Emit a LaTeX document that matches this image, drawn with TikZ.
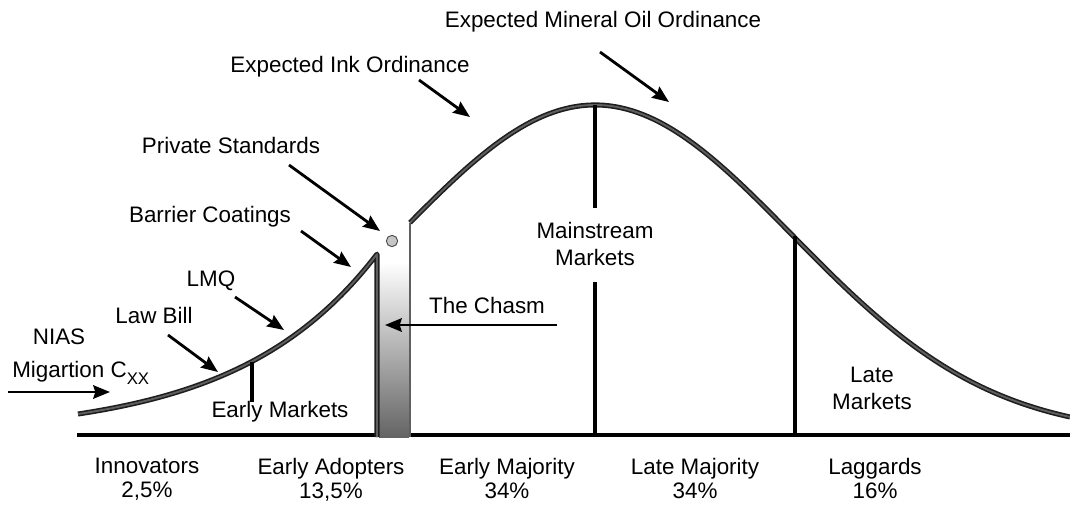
\documentclass[tikz,border=0pt]{standalone}
\usepackage{fontspec}
\setmainfont{Liberation Sans}
\usetikzlibrary{arrows.meta}
\definecolor{chasmGray}{RGB}{100,100,100}
\definecolor{bellDark}{RGB}{30,30,30}
\definecolor{bellMid}{RGB}{95,95,95}
\newcommand\lblfont{\fontsize{16.8}{20.25}\selectfont}
\newcommand\axisfont{\fontsize{16.8}{18}\selectfont}

\begin{document}
\begin{tikzpicture}[
  x=0.75pt, y=-0.75pt,
  lbl/.style={anchor=base, inner sep=0pt, font=\lblfont},
  grp/.style={anchor=north, align=center, inner sep=0pt, font=\lblfont},
  share/.style={anchor=north, align=center, inner sep=0pt, font=\axisfont},
  bell/.style={draw=bellDark, double=bellMid, double distance=1.4pt,
    line width=1.2pt, line join=round},
  tick/.style={line width=2.4pt},
  pointer/.style={-{Stealth[length=12.5pt,width=10pt,inset=1.5pt]},
    line width=2.1pt},
  dot/.style={circle, draw=black!70, fill=gray!45, line width=0.7pt,
    minimum size=8.5pt, inner sep=0pt}
]
\useasboundingbox (0,0) rectangle (1070,504);

% axis and chasm
\coordinate (axisL) at (77,435);
\coordinate (axisR) at (1070,435);
\draw[line width=2.6pt] (axisL) -- (axisR);
\shade[top color=white, bottom color=chasmGray] (379,262) rectangle (409,437);

% adoption curve, broken by the chasm
\draw[bell] plot[domain=78:377, samples=60]
  (\x,{435-21*exp(0.0072*(\x-78))}) -- (377,437);
\draw[line width=1.5pt, draw=bellMid] (410,437) -- (410,223);
\draw[bell] plot[domain=410:1070, samples=120]
  (\x,{435-330*exp(-0.5*((\x-595)/197)^2)});

% market dividers
\coordinate (peak) at (595,105);
\coordinate (msTop) at (595,208);
\coordinate (msBot) at (595,282);
\coordinate (msFoot) at (595,435);
\coordinate (lateTop) at (795,236);
\coordinate (lateFoot) at (795,435);
\coordinate (earlyTop) at (252,362);
\coordinate (earlyBot) at (252,402);
\draw[tick] (peak) -- (msTop);
\draw[tick] (msBot) -- (msFoot);
\draw[tick] (lateTop) -- (lateFoot);
\draw[tick] (earlyTop) -- (earlyBot);

\node[grp] (msLbl) at (595,222) {Mainstream\\Markets};
\node[grp] (lateLbl) at (872,367) {Late\\Markets};
\node[lbl] (earlyLbl) at (280,417) {Early Markets};

% regulations pointing at the curve
\node[lbl] (oilLbl) at (603,27) {Expected Mineral Oil Ordinance};
\node[lbl] (inkLbl) at (350,72) {Expected Ink Ordinance};
\node[lbl] (psLbl) at (231,153) {Private Standards};
\node[lbl] (bcLbl) at (210,222) {Barrier Coatings};
\node[lbl] (lmqLbl) at (211,286) {LMQ};
\node[lbl] (lawLbl) at (154,323) {Law Bill};
\node[lbl] (niasLbl) at (59,344) {NIAS};
\node[lbl, anchor=base west] (migLbl) at (12,377)
  {Migartion C\raisebox{-5.3pt}{\fontsize{12.6}{12.6}\selectfont XX}};
\node[lbl] (chasmLbl) at (487,313) {The Chasm};
\node[dot] (psDot) at (392,241) {};

\coordinate (oilTail) at (600,52);
\coordinate (oilTip) at (669,102);
\coordinate (inkTail) at (419,80);
\coordinate (inkTip) at (470,117);
\coordinate (psTail) at (289,165);
\coordinate (psTip) at (380,231);
\coordinate (bcTail) at (301,231);
\coordinate (bcTip) at (351,267);
\coordinate (lmqTail) at (235,297);
\coordinate (lmqTip) at (284,330);
\coordinate (lawTail) at (168,335);
\coordinate (lawTip) at (218,372);
\coordinate (migTail) at (8,392);
\coordinate (migTip) at (110,392);
\coordinate (chasmTail) at (557,325);
\coordinate (chasmTip) at (385,325);
\draw[pointer] (oilTail) -- (oilTip);
\draw[pointer] (inkTail) -- (inkTip);
\draw[pointer] (psTail) -- (psTip);
\draw[pointer] (bcTail) -- (bcTip);
\draw[pointer] (lmqTail) -- (lmqTip);
\draw[pointer] (lawTail) -- (lawTip);
\draw[pointer] (migTail) -- (migTip);
\draw[pointer] (chasmTail) -- (chasmTip);

% adopter groups
\node[share] (innoLbl) at (147,458) {Innovators\\2,5\%};
\node[share] (eaLbl) at (331,458) {Early Adopters\\13,5\%};
\node[share] (emLbl) at (507,458) {Early Majority\\34\%};
\node[share] (lmLbl) at (695,458) {Late Majority\\34\%};
\node[share] (lagLbl) at (875,458) {Laggards\\16\%};
\end{tikzpicture}
\end{document}
